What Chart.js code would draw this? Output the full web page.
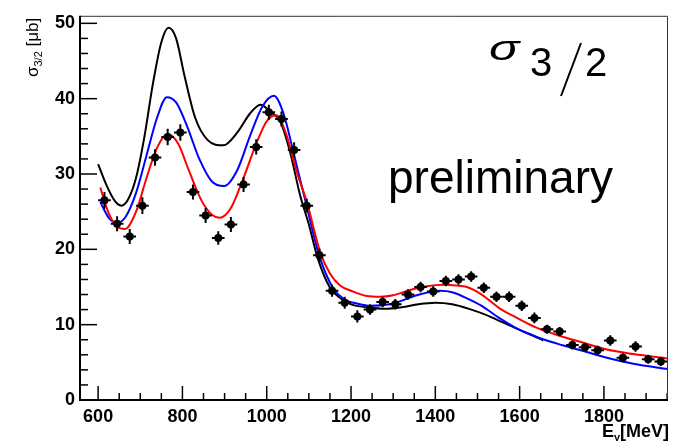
<!DOCTYPE html>
<html>
<head>
<meta charset="utf-8">
<script src="https://cdn.jsdelivr.net/npm/chart.js@4.4.0/dist/chart.umd.min.js"></script>
<style>
  html, body { margin: 0; padding: 0; background: #fff; }
</style>
</head>
<body>
<canvas id="myChart" width="675" height="441"></canvas>
<script>
// measured points (E_gamma in MeV, sigma_3/2 in microbarn)
let dataE = [615, 645, 675, 705, 735, 765, 795, 825, 855, 885, 915, 945, 975, 1005, 1035, 1065,
  1095, 1125, 1155, 1185, 1215, 1245, 1275, 1305, 1335, 1365, 1395, 1425, 1455, 1485, 1515,
  1545, 1575, 1605, 1635, 1665, 1695, 1725, 1755, 1785, 1815, 1845, 1875, 1905, 1935]
let dataS = [26.5, 23.4, 21.7, 25.8, 32.2, 34.9, 35.5, 27.6, 24.5, 21.5, 23.3, 28.6, 33.6, 38.2, 37.3, 33.2,
  25.8, 19.2, 14.5, 12.9, 11.1, 12.0, 13.0, 12.7, 14.0, 15.0, 14.4, 15.8, 16.0, 16.4, 14.9,
  13.7, 13.7, 12.5, 10.9, 9.4, 9.1, 7.3, 7.0, 6.6, 7.9, 5.6, 7.1, 5.4, 5.1]
let dataErr = [1.1, 1.0, 1.0, 1.1, 1.1, 1.1, 1.1, 1.0, 1.0, 0.9, 1.0, 1.0, 1.0, 1.0, 1.0, 1.0,
  0.9, 0.9, 0.8, 0.8, 0.8, 0.7, 0.7, 0.7, 0.7, 0.7, 0.7, 0.7, 0.7, 0.7, 0.7,
  0.7, 0.7, 0.7, 0.7, 0.6, 0.6, 0.6, 0.6, 0.6, 0.7, 0.6, 0.7, 0.6, 0.6]
let binHalf = 15

// model curves
let blackE = [600, 620, 640, 655, 670, 690, 710, 730, 750, 767, 785, 805, 830, 860, 897, 930, 960, 985,
  1010, 1032, 1055, 1080, 1100, 1120, 1150, 1175, 1200, 1240, 1280, 1320, 1360, 1400, 1440, 1480,
  1520, 1560, 1600, 1630, 1656]
let blackS = [31.3, 28.5, 26.4, 25.8, 26.5, 29.5, 35.0, 42.0, 47.5, 49.4, 48.0, 43.0, 37.5, 34.5, 33.8, 35.5, 38.0, 39.2,
  38.2, 37.0, 33.0, 27.0, 23.3, 19.0, 14.9, 13.5, 12.7, 12.3, 12.1, 12.3, 12.7, 12.9, 12.7, 12.1,
  11.3, 10.3, 9.3, 8.6, 7.9]

let blueE = [605, 625, 644, 665, 690, 715, 740, 763, 785, 810, 840, 870, 899, 930, 960, 990, 1017,
  1040, 1065, 1095, 1125, 1158, 1190, 1214, 1245, 1300, 1356, 1411, 1440, 1475, 1510, 1554,
  1600, 1649, 1700, 1751, 1807, 1870, 1952]
let blueS = [26.3, 24.2, 23.5, 24.3, 27.5, 32.5, 37.5, 40.2, 39.5, 36.5, 32.0, 29.0, 28.4, 30.5, 35.0, 39.0, 40.4,
  38.0, 32.5, 25.7, 19.1, 14.8, 13.2, 12.8, 12.5, 12.8, 13.9, 14.5, 14.3, 13.5, 12.5, 10.8,
  9.3, 8.2, 7.3, 6.5, 5.6, 4.8, 4.1]

let redE = [605, 625, 645, 664, 690, 715, 740, 765, 790, 815, 845, 870, 888, 915, 945, 975, 1000, 1022,
  1045, 1070, 1095, 1127, 1150, 1174, 1200, 1237, 1270, 1300, 1340, 1380, 1419, 1450, 1475, 1510,
  1554, 1590, 1640, 1690, 1751, 1807, 1870, 1952]
let redS = [28.2, 24.8, 23.0, 22.7, 25.0, 29.5, 33.5, 35.3, 34.0, 30.5, 26.5, 24.6, 24.2, 25.5, 29.5, 34.0, 37.0, 37.8,
  35.5, 30.5, 26.3, 19.6, 16.8, 15.2, 14.5, 13.8, 13.7, 13.9, 14.6, 15.1, 15.3, 15.2, 15.0, 14.0,
  12.1, 11.0, 9.6, 8.6, 7.6, 6.7, 6.1, 5.5]

// axis ticks
let xTicks = []
for (let v = 600; v <= 1950; v += 50) xTicks.push(v)
let yTicks = []
for (let v = 0; v <= 50; v += 2) yTicks.push(v)

function pts(xs, ys) { return xs.map((e, i) => ({x: e, y: ys[i]})) }

function curve(xs, ys, color) {
  return {
    type: 'line',
    data: pts(xs, ys),
    borderColor: color,
    borderWidth: 2,
    pointRadius: 0,
    fill: false,
    cubicInterpolationMode: 'monotone'
  }
}

// error bars + ROOT style frame and inward ticks
const rootFrame = {
  id: 'rootFrame',
  afterDatasetsDraw(chart) {
    const {ctx, chartArea: a, scales: {x, y}} = chart
    ctx.save()
    ctx.strokeStyle = '#000'
    ctx.lineWidth = 2
    dataE.forEach((e, i) => {
      let px = x.getPixelForValue(e), py = y.getPixelForValue(dataS[i])
      ctx.beginPath()
      ctx.moveTo(x.getPixelForValue(e - binHalf), py)
      ctx.lineTo(x.getPixelForValue(e + binHalf), py)
      ctx.moveTo(px, y.getPixelForValue(dataS[i] - dataErr[i]))
      ctx.lineTo(px, y.getPixelForValue(dataS[i] + dataErr[i]))
      ctx.stroke()
    })
    // ticks
    ctx.lineWidth = 1.5
    xTicks.forEach(v => {
      let px = x.getPixelForValue(v)
      let len = v % 200 === 0 ? 14 : 7
      ctx.beginPath(); ctx.moveTo(px, a.bottom); ctx.lineTo(px, a.bottom - len); ctx.stroke()
    })
    yTicks.forEach(v => {
      let py = y.getPixelForValue(v)
      let len = v % 10 === 0 ? 17 : 8
      ctx.beginPath(); ctx.moveTo(a.left, py); ctx.lineTo(a.left + len, py); ctx.stroke()
    })
    // frame
    ctx.lineWidth = 1
    ctx.strokeStyle = '#333'
    ctx.beginPath()
    ctx.moveTo(a.left, a.top + 0.5); ctx.lineTo(a.right - 0.5, a.top + 0.5); ctx.lineTo(a.right - 0.5, a.bottom)
    ctx.stroke()
    ctx.lineWidth = 2
    ctx.strokeStyle = '#000'
    ctx.beginPath()
    ctx.moveTo(a.left, a.top); ctx.lineTo(a.left, a.bottom); ctx.lineTo(a.right, a.bottom)
    ctx.stroke()
    ctx.restore()
  },
  afterDraw(chart) {
    const ctx = chart.ctx
    ctx.save()
    ctx.fillStyle = '#000'
    ctx.strokeStyle = '#000'
    ctx.textBaseline = 'alphabetic'
    // big sigma_3/2 label
    ctx.save()
    ctx.translate(489, 60)
    ctx.scale(1.4, 1)
    ctx.font = 'italic 36px "Liberation Sans"'
    ctx.fillText('σ', 0, 0)
    ctx.restore()
    ctx.font = '40px "Liberation Sans"'
    ctx.fillText('3', 530, 76)
    ctx.fillText('2', 585, 76)
    ctx.lineWidth = 2
    ctx.beginPath(); ctx.moveTo(581, 43); ctx.lineTo(561, 96); ctx.stroke()
    ctx.font = '46px "Liberation Sans"'
    ctx.fillText('preliminary', 388, 193)
    // x title
    ctx.font = 'bold 18px "Liberation Sans"'
    ctx.textAlign = 'right'
    let tail = '[MeV]'
    ctx.fillText(tail, 669, 437)
    let wt = ctx.measureText(tail).width
    ctx.font = 'bold 11px "Liberation Sans"'
    ctx.fillText('γ', 669 - wt, 441)
    let wg = ctx.measureText('γ').width
    ctx.font = 'bold 18px "Liberation Sans"'
    ctx.fillText('E', 669 - wt - wg, 437)
    // y title
    ctx.textAlign = 'left'
    ctx.translate(38, 77)
    ctx.rotate(-Math.PI / 2)
    ctx.font = '17px "Liberation Sans"'
    ctx.fillText('σ', 0, 0)
    let w1 = ctx.measureText('σ').width
    ctx.font = '11px "Liberation Sans"'
    ctx.fillText('3/2', w1, 4)
    let w2 = ctx.measureText('3/2').width
    ctx.font = '17px "Liberation Sans"'
    ctx.fillText(' [μb]', w1 + w2, 0)
    ctx.restore()
  }
}

let canvas = document.getElementById('myChart')
let ctx = canvas.getContext('2d')
let myChart = new Chart(ctx, {
  type: 'scatter',
  data: {
    datasets: [
      {
        type: 'scatter',
        data: pts(dataE, dataS),
        pointRadius: 4,
        pointBackgroundColor: '#000',
        pointBorderColor: '#000',
        pointBorderWidth: 0
      },
      curve(redE, redS, '#ff0000'),
      curve(blueE, blueS, '#0000ff'),
      curve(blackE, blackS, '#000000')
    ]
  },
  options: {
    responsive: false,
    animation: false,
    layout: { padding: { left: 0, right: 7, top: 10, bottom: 0 } },
    plugins: { legend: { display: false }, tooltip: { enabled: false } },
    scales: {
      x: {
        type: 'linear',
        min: 557,
        max: 1952,
        afterBuildTicks: s => { s.ticks = xTicks.map(v => ({value: v})) },
        afterFit: s => { s.height = 41 },
        grid: { drawOnChartArea: false, drawTicks: false },
        border: { display: false },
        ticks: {
          autoSkip: false,
          maxRotation: 0,
          padding: 6,
          color: '#000',
          font: { family: 'Liberation Sans', weight: 'bold', size: 18 },
          callback: v => (v % 200 === 0 ? v : '')
        }
      },
      y: {
        min: 0,
        max: 51,
        afterBuildTicks: s => { s.ticks = yTicks.map(v => ({value: v})) },
        afterFit: s => { s.width = 80 },
        grid: { drawOnChartArea: false, drawTicks: false },
        border: { display: false },
        ticks: {
          autoSkip: false,
          padding: 5,
          color: '#000',
          font: { family: 'Liberation Sans', weight: 'bold', size: 18 },
          callback: v => (v % 10 === 0 ? v : '')
        }
      }
    }
  },
  plugins: [rootFrame]
})
</script>
</body>
</html>
